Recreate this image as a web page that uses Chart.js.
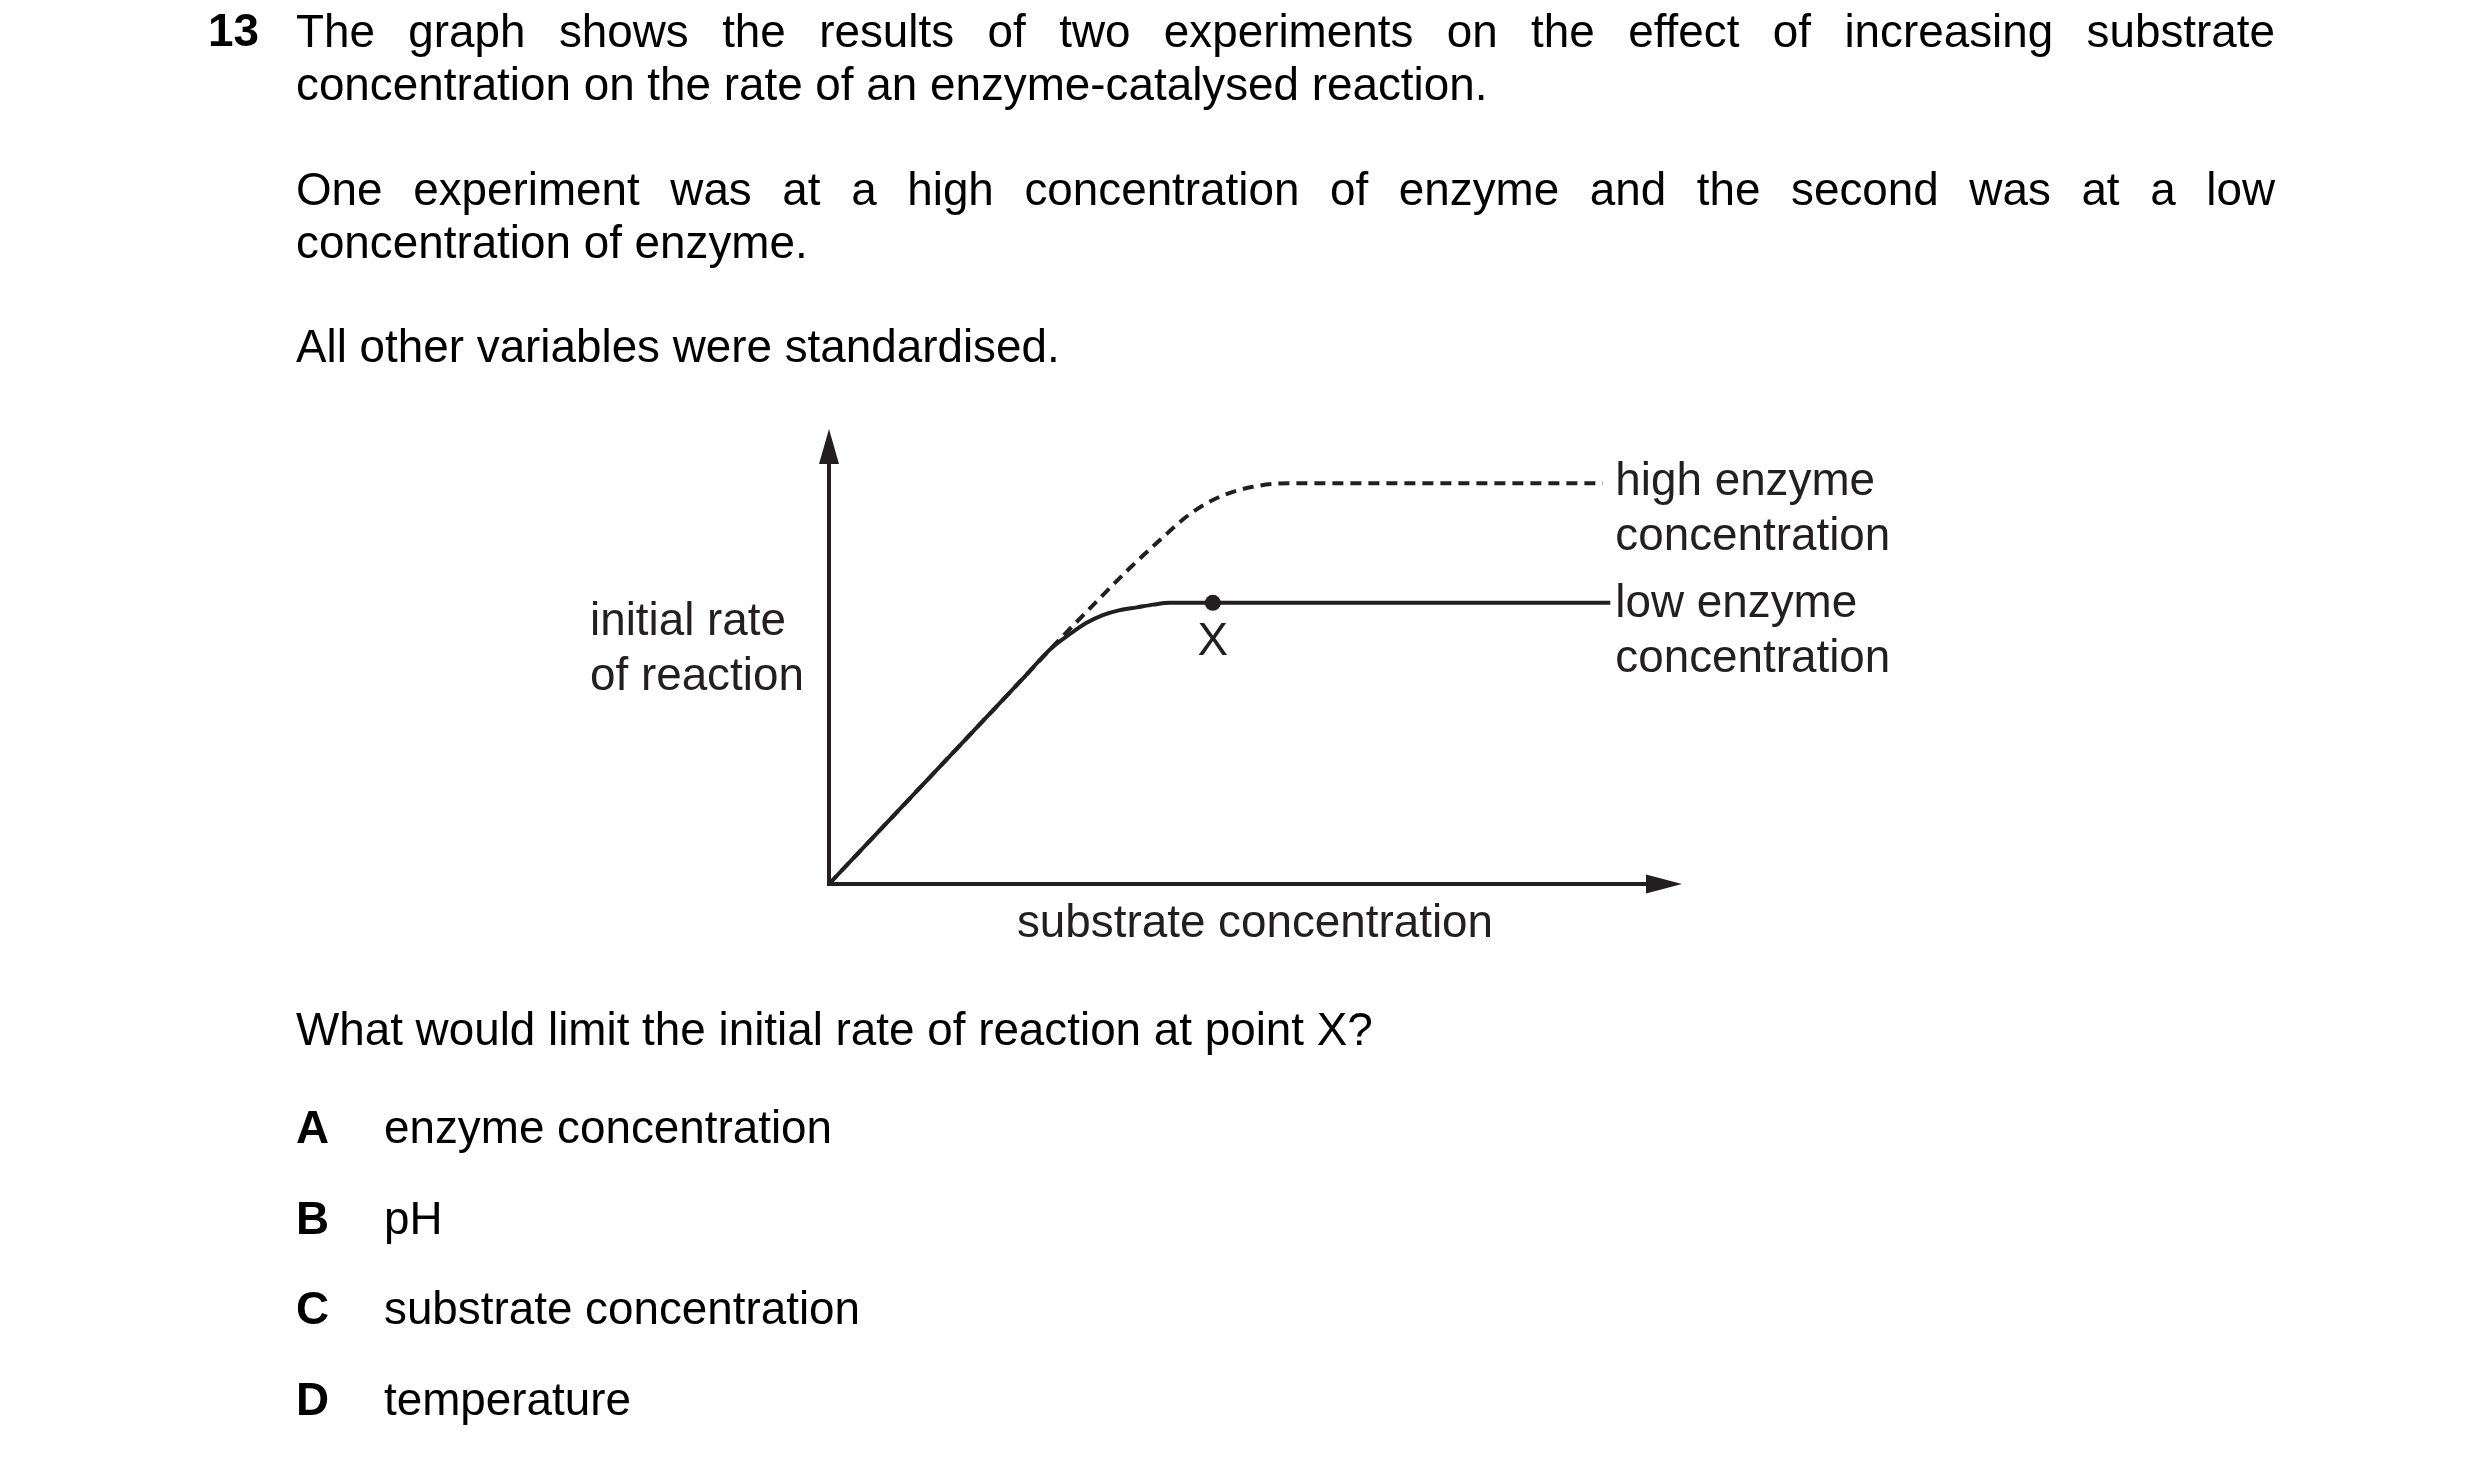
<!DOCTYPE html>
<html>
<head>
<meta charset="utf-8">
<title>Enzyme concentration question</title>
<script src="https://cdn.jsdelivr.net/npm/chart.js@4.4.1/dist/chart.umd.min.js"></script>
<style>
  html, body { margin: 0; padding: 0; background: #fff; }
  body { width: 2480px; height: 1463px; position: relative; overflow: hidden;
         font-family: "Liberation Sans", Arial, sans-serif; font-size: 45.8px; color: #000; }
  #chart { position: absolute; left: 0; top: 0; }
  .ln { position: absolute; line-height: 53px; white-space: nowrap; }
  .just { width: 1979px; text-align: justify; text-align-last: justify; white-space: normal; }
  .b { font-weight: bold; }
</style>
</head>
<body>
<canvas id="chart" width="2480" height="1463"></canvas>

<div class="ln b" style="left:208px; top:4px;">13</div>
<div class="ln just" style="left:296px; top:5px;">The graph shows the results of two experiments on the effect of increasing substrate</div>
<div class="ln" style="left:296px; top:58px;">concentration on the rate of an enzyme-catalysed reaction.</div>
<div class="ln just" style="left:296px; top:163px;">One experiment was at a high concentration of enzyme and the second was at a low</div>
<div class="ln" style="left:296px; top:216px;">concentration of enzyme.</div>
<div class="ln" style="left:296px; top:320px;">All other variables were standardised.</div>

<div class="ln" style="left:296px; top:1003px;">What would limit the initial rate of reaction at point X?</div>
<div class="ln b" style="left:296px; top:1101px;">A</div>
<div class="ln" style="left:384px; top:1101px;">enzyme concentration</div>
<div class="ln b" style="left:296px; top:1192px;">B</div>
<div class="ln" style="left:384px; top:1192px;">pH</div>
<div class="ln b" style="left:296px; top:1282px;">C</div>
<div class="ln" style="left:384px; top:1282px;">substrate concentration</div>
<div class="ln b" style="left:296px; top:1373px;">D</div>
<div class="ln" style="left:384px; top:1373px;">temperature</div>

<script>
// curve readings (arbitrary units, axes run 0..10)
const lowX = [0, 1.3, 2.3, 2.6, 2.83, 3.02, 3.21, 3.41, 3.61, 3.80, 4.00, 4.50, 6.8, 9.16];
const lowY = [0, 2.58, 4.57, 5.17, 5.50, 5.74, 5.91, 6.02, 6.08, 6.14, 6.18, 6.18, 6.18, 6.18];

const highX = [0, 1.3, 2.3, 2.6, 3.18, 3.53, 3.88, 4.23, 4.58, 4.97, 5.40, 7.2, 9.07];
const highY = [0, 2.58, 4.57, 5.17, 6.29, 6.95, 7.56, 8.13, 8.51, 8.73, 8.81, 8.81, 8.81];

const pointX = [4.50];
const pointY = [6.18];

const axisMax = 10;
const ink = "#231f20";
const labelFont = '45.8px "Liberation Sans", Arial, sans-serif';

function toPoints(xs, ys) {
  return xs.map((x, i) => ({ x: x, y: ys[i] }));
}

// ==================== AXES + LABELS ====================

const sketchPlugin = {
  id: "sketch",
  beforeDatasetsDraw(chart) {
    const ctx = chart.ctx;
    const xs = chart.scales.x;
    const ys = chart.scales.y;
    const x0 = xs.getPixelForValue(0);
    const y0 = ys.getPixelForValue(0);
    const xEnd = xs.getPixelForValue(axisMax);
    const yTop = ys.getPixelForValue(axisMax);

    ctx.save();
    ctx.strokeStyle = ink;
    ctx.fillStyle = ink;
    ctx.lineWidth = 4;
    ctx.lineCap = "butt";

    // y axis
    ctx.beginPath();
    ctx.moveTo(x0, y0 + 2);
    ctx.lineTo(x0, yTop + 30);
    ctx.stroke();
    ctx.beginPath();
    ctx.moveTo(x0, yTop);
    ctx.lineTo(x0 - 10, yTop + 35);
    ctx.lineTo(x0 + 10, yTop + 35);
    ctx.closePath();
    ctx.fill();

    // x axis
    ctx.beginPath();
    ctx.moveTo(x0 - 2, y0);
    ctx.lineTo(xEnd - 30, y0);
    ctx.stroke();
    ctx.beginPath();
    ctx.moveTo(xEnd, y0);
    ctx.lineTo(xEnd - 36, y0 - 9.5);
    ctx.lineTo(xEnd - 36, y0 + 9.5);
    ctx.closePath();
    ctx.fill();
    ctx.restore();
  },
  afterDraw(chart) {
    const ctx = chart.ctx;
    const xs = chart.scales.x;
    const ys = chart.scales.y;
    const x0 = xs.getPixelForValue(0);
    const y0 = ys.getPixelForValue(0);

    ctx.save();
    ctx.fillStyle = ink;
    ctx.font = labelFont;
    ctx.textBaseline = "alphabetic";

    // y axis title
    ctx.textAlign = "left";
    ctx.fillText("initial rate", x0 - 239, y0 - 249);
    ctx.fillText("of reaction", x0 - 239, y0 - 194);

    // x axis title
    ctx.textAlign = "center";
    ctx.fillText("substrate concentration", x0 + 426, y0 + 53);

    // point X label
    const px = xs.getPixelForValue(pointX[0]);
    const py = ys.getPixelForValue(pointY[0]);
    ctx.fillText("X", px, py + 52);

    // line labels
    ctx.textAlign = "left";
    const labelLeft = xs.getPixelForValue(lowX[lowX.length - 1]) + 5;
    const highPlateau = ys.getPixelForValue(highY[highY.length - 1]);
    const lowPlateau = ys.getPixelForValue(lowY[lowY.length - 1]);
    ctx.fillText("high enzyme", labelLeft, highPlateau + 12);
    ctx.fillText("concentration", labelLeft, highPlateau + 67);
    ctx.fillText("low enzyme", labelLeft, lowPlateau + 14);
    ctx.fillText("concentration", labelLeft, lowPlateau + 69);
    ctx.restore();
  },
};

// ==================== RENDER CHART ====================

new Chart(document.getElementById("chart"), {
  type: "line",
  data: {
    datasets: [
      {
        label: "point X",
        data: toPoints(pointX, pointY),
        showLine: false,
        pointRadius: 8,
        pointBackgroundColor: ink,
        pointBorderWidth: 0,
      },
      {
        label: "low enzyme concentration",
        data: toPoints(lowX, lowY),
        borderColor: ink,
        borderWidth: 4,
        pointRadius: 0,
        cubicInterpolationMode: "monotone",
        fill: false,
      },
      {
        label: "high enzyme concentration",
        data: toPoints(highX, highY),
        borderColor: ink,
        borderWidth: 4,
        borderDash: [11, 7],
        pointRadius: 0,
        cubicInterpolationMode: "monotone",
        fill: false,
      },
    ],
  },
  options: {
    responsive: false,
    devicePixelRatio: 1,
    animation: false,
    clip: false,
    layout: {
      padding: { left: 829, right: 798, top: 429, bottom: 579 },
    },
    plugins: {
      legend: { display: false },
      tooltip: { enabled: false },
      title: { display: false },
    },
    scales: {
      x: { type: "linear", min: 0, max: axisMax, display: false },
      y: { type: "linear", min: 0, max: axisMax, display: false },
    },
  },
  plugins: [sketchPlugin],
});
</script>
</body>
</html>
